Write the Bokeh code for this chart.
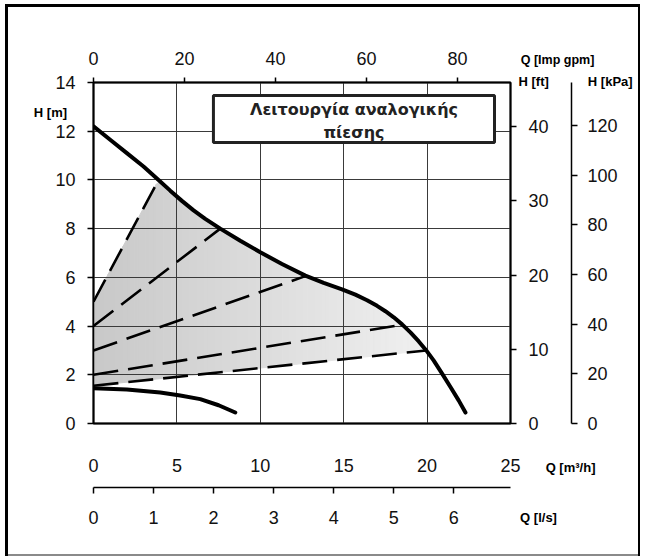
import numpy as np
from bokeh.plotting import figure
from bokeh.models import Range1d, LinearAxis, FixedTicker, Label, BoxAnnotation, ColumnDataSource
from bokeh.embed import file_html
from bokeh.resources import INLINE

# ---------------- data (Q in m3/h, H in m) ----------------
q_max = [0, 1, 2, 3, 3.9, 4.6, 5.3, 6.0, 6.7, 7.6, 8.8, 10, 11.3, 12.7, 13.8, 14.9, 15.7,
         16.4, 17.0, 17.5, 18.0, 18.5, 19.0, 19.5, 19.95, 20.4, 20.9, 21.4, 21.9, 22.3]
h_max = [12.2, 11.65, 11.1, 10.55, 10.0, 9.56, 9.14, 8.75, 8.40, 8.0, 7.50, 7.03, 6.55, 6.07,
         5.77, 5.51, 5.29, 5.06, 4.83, 4.61, 4.36, 4.07, 3.74, 3.37, 3.0, 2.58, 2.05, 1.5, 0.94, 0.45]

q_min = [0, 2, 4, 5.2, 6.4, 7.5, 8.5]
h_min = [1.45, 1.40, 1.27, 1.15, 1.0, 0.75, 0.45]

# proportional-pressure control curves (start / end)
q_pp1 = [0, 3.9];   h_pp1 = [5.0, 10.0]
q_pp2 = [0, 7.6];   h_pp2 = [4.0, 8.0]
q_pp3 = [0, 12.7];  h_pp3 = [3.0, 6.05]
q_pp4 = [0, 18.5];  h_pp4 = [2.0, 4.05]
q_pp5 = [0, 19.95]; h_pp5 = [1.55, 3.0]

x_ticks_m3h = [0, 5, 10, 15, 20, 25]
x_ticks_ls = [0, 1, 2, 3, 4, 5, 6]
x_ticks_gpm = [0, 20, 40, 60, 80]
y_ticks_m = [0, 2, 4, 6, 8, 10, 12, 14]
y_ticks_ft = [0, 10, 20, 30, 40]
y_ticks_kpa = [0, 20, 40, 60, 80, 100, 120]

title_lines = ["Λειτουργία αναλογικής", "πίεσης"]

# unit conversions
GPM_PER_M3H = 3.6662
LS_PER_M3H = 1 / 3.6
FT_PER_M = 3.2808
KPA_PER_M = 9.80665

Q_MAX_AX = 25
H_MAX_AX = 14

FONT = "Liberation Sans"

p = figure(width=645, height=556,
           x_range=Range1d(0, Q_MAX_AX), y_range=Range1d(0, H_MAX_AX),
           output_backend="svg", toolbar_location=None,
           min_border_left=93, min_border_right=135,
           min_border_top=82, min_border_bottom=133)
# outer frame of the picture: inset shadows behind a transparent border area
p.styles = {"background-color": "white",
            "box-shadow": ("inset 5px 0 0 0 white, inset 0 4px 0 0 white, inset -5px 0 0 0 white, "
                           "inset 8px 0 0 0 black, inset 0 7px 0 0 black, inset -7px 0 0 0 black, "
                           "inset 0 -2px 0 0 #8a8a8a")}
p.background_fill_color = "white"
p.border_fill_color = None
p.outline_line_color = "black"
p.outline_line_width = 2

p.extra_x_ranges = {"gpm": Range1d(0, Q_MAX_AX * GPM_PER_M3H),
                    "ls": Range1d(0, Q_MAX_AX * LS_PER_M3H)}
p.extra_y_ranges = {"ft": Range1d(0, H_MAX_AX * FT_PER_M),
                    "kpa": Range1d(0, H_MAX_AX * KPA_PER_M)}


def style_axis(ax, ticks, tick_out, standoff):
    ax.ticker = FixedTicker(ticks=ticks)
    ax.major_tick_out = tick_out
    ax.major_tick_in = 0
    ax.minor_tick_line_color = None
    ax.major_tick_line_color = "black"
    ax.major_tick_line_width = 1.5
    ax.axis_line_color = "black"
    ax.axis_line_width = 1.5
    ax.major_label_standoff = standoff
    ax.major_label_text_font = FONT
    ax.major_label_text_font_size = "18px"
    ax.major_label_text_color = "#111111"


def unit_label(x, y, txt, align="center", size="13px"):
    return Label(x=x, y=y, text=txt, text_font=FONT, text_font_style="bold",
                 text_font_size=size, text_color="black",
                 text_align=align, text_baseline="middle")


# bottom m3/h axis (labels only)
xa = p.xaxis[0]
style_axis(xa, x_ticks_m3h, 0, 35)
xa.axis_label = " "
xa.axis_label_text_font_size = "1px"
xa.axis_label_standoff = 9

# left m axis
ya = p.yaxis[0]
style_axis(ya, y_ticks_m, 6, 12)
p.add_layout(unit_label(-2.58, 12.77, "H [m]"), "left")

# top Imp gpm axis
ax_gpm = LinearAxis(x_range_name="gpm")
style_axis(ax_gpm, x_ticks_gpm, 5, 13)
p.add_layout(ax_gpm, "above")
p.add_layout(unit_label(27.82, 14.93, "Q [Imp gpm]", size="12.5px"), "above")
p.add_layout(unit_label(25.48, 14.04, "H [ft]" + "\u2002" * 6 + "H [kPa]", align="left"), "above")
p.add_layout(unit_label(28.6, -1.81, "Q [m³/h]"), "above")

# right ft axis
ax_ft = LinearAxis(y_range_name="ft")
style_axis(ax_ft, y_ticks_ft, 6, 12)
ax_ft.axis_label = " "
ax_ft.axis_label_text_font_size = "1px"
ax_ft.axis_label_standoff = 16
p.add_layout(ax_ft, "right")

# right kPa axis
ax_kpa = LinearAxis(y_range_name="kpa")
style_axis(ax_kpa, y_ticks_kpa, 6, 10)
p.add_layout(ax_kpa, "right")

# bottom l/s axis
ax_ls = LinearAxis(x_range_name="ls")
style_axis(ax_ls, x_ticks_ls, 6, 17)
p.add_layout(ax_ls, "below")
p.add_layout(unit_label(26.68, -3.86, "Q [l/s]"), "below")

# grid
p.xgrid.ticker = FixedTicker(ticks=x_ticks_m3h)
p.ygrid.ticker = FixedTicker(ticks=y_ticks_m)
for g in (p.xgrid, p.ygrid):
    g.grid_line_color = "#3a3a3a"
    g.grid_line_width = 1

# ---------------- shaded operating area (gradient via strips) ----------------
def lin(qs, hs, q):
    return hs[0] + (np.asarray(q) - qs[0]) * (hs[1] - hs[0]) / (qs[1] - qs[0])

fine = np.linspace(0, max(q_max), 4000)
top_f = np.minimum(lin(q_pp1, h_pp1, fine), np.interp(fine, q_max, h_max))
bot_f = lin(q_pp5, h_pp5, fine)
q_end = fine[np.where(top_f > bot_f)[0].max()]

n_strips = 90
edges = np.linspace(0, q_end, n_strips + 1)
top_e = np.minimum(lin(q_pp1, h_pp1, edges), np.interp(edges, q_max, h_max))
bot_e = lin(q_pp5, h_pp5, edges)
top_e = np.maximum(top_e, bot_e)
xs, ys, cols = [], [], []
for i in range(n_strips):
    xs.append([edges[i], edges[i + 1], edges[i + 1], edges[i]])
    ys.append([bot_e[i], bot_e[i + 1], top_e[i + 1], top_e[i]])
    t = (0.5 * (edges[i] + edges[i + 1])) / q_end
    g = int(round(200 + (240 - 200) * t))
    cols.append("#%02x%02x%02x" % (g, g, g))
src = ColumnDataSource(dict(xs=xs, ys=ys, c=cols))
p.patches("xs", "ys", source=src, fill_color="c", line_color="c", line_width=1, level="image")

# ---------------- curves ----------------
for qs, hs in [(q_pp1, h_pp1), (q_pp2, h_pp2), (q_pp3, h_pp3), (q_pp4, h_pp4), (q_pp5, h_pp5)]:
    p.line(qs, hs, line_color="black", line_width=2.6, line_dash="25 10")

p.line(q_max, h_max, line_color="black", line_width=4, line_join="round", line_cap="round")
p.line(q_min, h_min, line_color="black", line_width=4, line_join="round", line_cap="round")

# ---------------- title box ----------------
box = BoxAnnotation(left=7.19, right=24.04, bottom=11.54, top=13.47,
                    fill_color="white", fill_alpha=1.0,
                    line_color="#222222", line_alpha=1.0, line_width=3)
p.add_layout(box)
p.add_layout(Label(x=15.62, y=12.42, text="\n".join(title_lines),
                   text_font="DejaVu Sans", text_font_style="bold",
                   text_font_size="16px", text_color="#222222",
                   text_align="center", text_baseline="middle",
                   text_line_height=1.2))

open("out.html", "w").write(file_html(p, INLINE))
